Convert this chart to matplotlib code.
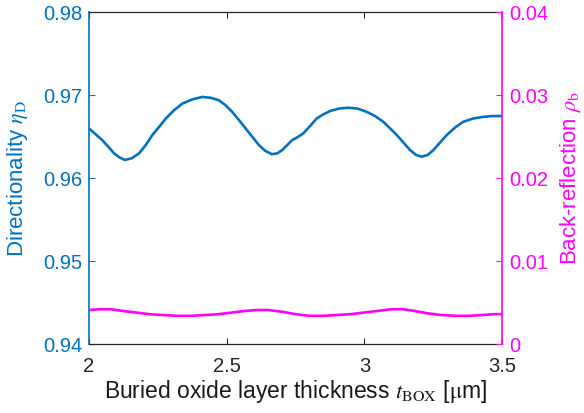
import matplotlib
matplotlib.use("Agg")
import matplotlib.pyplot as plt

plt.rcParams['font.family'] = ['Liberation Sans', 'DejaVu Sans']
plt.rcParams['mathtext.fontset'] = 'stix'

# Directionality data (blue, left axis)
t_dir = [2.000, 2.024, 2.048, 2.070, 2.091, 2.111, 2.131, 2.155, 2.182, 2.206, 2.230, 2.255, 2.279, 2.309,
         2.339, 2.375, 2.411, 2.442, 2.472, 2.496, 2.520, 2.545, 2.569, 2.593, 2.617, 2.640, 2.664, 2.684,
         2.702, 2.720, 2.738, 2.750, 2.760, 2.778, 2.803, 2.827, 2.851, 2.875, 2.908, 2.942, 2.975, 3.009,
         3.039, 3.069, 3.094, 3.118, 3.142, 3.166, 3.188, 3.208, 3.230, 3.251, 3.275, 3.299, 3.329, 3.359,
         3.395, 3.432, 3.466, 3.500]
eta_d = [0.9660, 0.9653, 0.9646, 0.9638, 0.9630, 0.9625, 0.9622, 0.9624, 0.9630, 0.9640, 0.9652, 0.9662,
         0.9672, 0.9682, 0.9690, 0.9695, 0.9698, 0.9697, 0.9694, 0.9688, 0.9680, 0.9670, 0.9660, 0.9650,
         0.9640, 0.9633, 0.9629, 0.9630, 0.9634, 0.9640, 0.9646, 0.9648, 0.9650, 0.9654, 0.9663, 0.9672,
         0.9677, 0.9681, 0.9684, 0.9685, 0.9684, 0.9680, 0.9675, 0.9668, 0.9660, 0.9652, 0.9643, 0.9634,
         0.9628, 0.9626, 0.9628, 0.9634, 0.9643, 0.9652, 0.9661, 0.9668, 0.9672, 0.9674, 0.9675, 0.9675]

# Back-reflection data (magenta, right axis)
t_br = [2.00, 2.04, 2.08, 2.12, 2.17, 2.22, 2.27, 2.32, 2.37, 2.42, 2.47, 2.52, 2.57, 2.61, 2.65, 2.70,
        2.75, 2.80, 2.85, 2.90, 2.95, 3.00, 3.05, 3.10, 3.14, 3.18, 3.23, 3.28, 3.33, 3.38, 3.43, 3.47, 3.50]
rho_b = [0.0041, 0.0042, 0.0042, 0.0040, 0.0038, 0.0036, 0.0035, 0.0034, 0.0034, 0.0035, 0.0036, 0.0038,
         0.0040, 0.0041, 0.0041, 0.0039, 0.0036, 0.0034, 0.0034, 0.0035, 0.0036, 0.0038, 0.0040, 0.0042,
         0.0042, 0.0040, 0.0037, 0.0035, 0.0034, 0.0034, 0.0035, 0.0036, 0.0036]

xticks = [2, 2.5, 3, 3.5]
xticklabels = ['2', '2.5', '3', '3.5']
yticks_l = [0.94, 0.95, 0.96, 0.97, 0.98]
yticklabels_l = ['0.94', '0.95', '0.96', '0.97', '0.98']
yticks_r = [0, 0.01, 0.02, 0.03, 0.04]
yticklabels_r = ['0', '0.01', '0.02', '0.03', '0.04']

blue = '#0072BD'
mag = '#FF00FF'

fig = plt.figure(figsize=(5.84, 4.13), dpi=100)
ax = fig.add_axes([0.1524, 0.167, 0.7072, 0.803])
ax.plot(t_dir, eta_d, color=blue, lw=1.9, solid_joinstyle='round')
ax.set_xlim(2, 3.5)
ax.set_ylim(0.94, 0.98)
ax.set_xticks(xticks)
ax.set_xticklabels(xticklabels)
ax.set_yticks(yticks_l)
ax.set_yticklabels(yticklabels_l)
ax.tick_params(axis='x', direction='in', length=4, width=0.8, labelsize=14.5, colors='#262626', top=True, pad=9)
ax.tick_params(axis='y', direction='in', length=4, width=0.8, labelsize=14.5, colors=blue, pad=5)
ax.set_xlabel('Buried oxide layer thickness $t_\\mathrm{BOX}$ [$\\mathrm{\\mu}$m]', fontsize=16.5, color='#1a1a1a', labelpad=2)
ax.set_ylabel('Directionality $\\eta_\\mathrm{D}$', fontsize=16, color=blue, labelpad=9)
for s in ['top', 'bottom']:
    ax.spines[s].set_color('#262626')
    ax.spines[s].set_linewidth(0.9)
ax.spines['left'].set_color(blue)
ax.spines['left'].set_linewidth(1.2)
ax.spines['right'].set_visible(False)

ax2 = ax.twinx()
ax2.plot(t_br, rho_b, color=mag, lw=1.9, solid_joinstyle='round')
ax2.set_ylim(0, 0.04)
ax2.set_yticks(yticks_r)
ax2.set_yticklabels(yticklabels_r)
ax2.tick_params(axis='y', direction='in', length=4, width=0.8, labelsize=14.5, colors=mag, pad=5)
ax2.set_ylabel('Back-reflection $\\rho_\\mathrm{b}$', fontsize=16, color=mag, labelpad=7)
ax2.spines['right'].set_color(mag)
ax2.spines['right'].set_linewidth(1.2)
for s in ['top', 'bottom', 'left']:
    ax2.spines[s].set_visible(False)

fig.savefig('out.png', dpi=100)
